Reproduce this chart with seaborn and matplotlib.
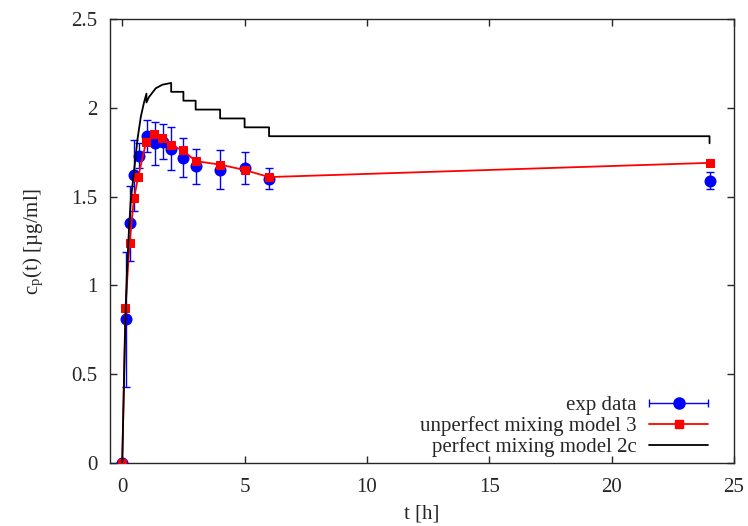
import numpy as np
import pandas as pd
import matplotlib
matplotlib.use('Agg')
import matplotlib.pyplot as plt
import seaborn as sns
from matplotlib.lines import Line2D
from matplotlib.container import ErrorbarContainer
from matplotlib.legend_handler import HandlerErrorbar

# experimental data: sampling time [h], concentration [ug/ml], error
t_exp = [0, 0.17, 0.33, 0.5, 0.67, 1.0, 1.33, 1.67, 2.0, 2.5, 3.0, 4.0, 5.0, 6.0, 24.0]
c_exp = [0, 0.81, 1.35, 1.62, 1.73, 1.84, 1.80, 1.81, 1.77, 1.72, 1.67, 1.65, 1.66, 1.60, 1.59]
err_exp = [0, 0.38, 0.21, 0.20, 0.07, 0.09, 0.12, 0.10, 0.12, 0.11, 0.10, 0.11, 0.09, 0.06, 0.05]

# unperfect mixing model 3
t_m3 = [0, 0.13, 0.30, 0.48, 0.65, 0.98, 1.30, 1.63, 1.98, 2.48, 3.0, 4.0, 5.0, 6.0, 24.0]
c_m3 = [0, 0.87, 1.24, 1.49, 1.61, 1.81, 1.85, 1.83, 1.79, 1.76, 1.70, 1.68, 1.65, 1.61, 1.69]

# perfect mixing model 2c
t_m2c = [0, 0.05, 0.10, 0.13, 0.20, 0.28, 0.35, 0.48, 0.62, 0.76, 0.89, 0.99, 0.99,
         1.09, 1.37, 1.64, 2.0, 2.0, 2.5, 2.5, 3.0, 3.0, 4.0, 4.0, 5.0, 5.0, 6.0, 6.0, 24.0, 24.0]
c_m2c = [0, 0.32, 0.63, 0.81, 1.10, 1.33, 1.48, 1.64, 1.82, 1.95, 2.03, 2.08, 2.03,
         2.06, 2.11, 2.13, 2.14, 2.09, 2.09, 2.04, 2.04, 1.99, 1.99, 1.94, 1.94, 1.89, 1.89, 1.84, 1.84, 1.80]

df_exp = pd.DataFrame({'t': t_exp, 'c': c_exp, 'err': err_exp})
df_m3 = pd.DataFrame({'t': t_m3, 'c': c_m3})
df_m2c = pd.DataFrame({'t': t_m2c, 'c': c_m2c})

sns.set_style('ticks')
plt.rcParams['font.family'] = ['Liberation Serif', 'DejaVu Serif']
plt.rcParams['mathtext.fontset'] = 'stix'

fig = plt.figure(figsize=(7.48, 5.26), dpi=100)
ax = fig.add_axes([110/748, 1-463/526, 624/748, 444/526])

ax.errorbar(df_exp['t'], df_exp['c'], yerr=df_exp['err'], fmt='none',
            ecolor='blue', elinewidth=1, capsize=3, capthick=1, zorder=2)
sns.scatterplot(data=df_exp, x='t', y='c', color='blue', s=75, linewidth=0,
                ax=ax, zorder=3)
sns.lineplot(data=df_m3, x='t', y='c', color='red', lw=1.3, marker='s', ms=6,
             mec='red', estimator=None, sort=False, ax=ax, zorder=4)
sns.lineplot(data=df_m2c, x='t', y='c', color='black', lw=1.3,
             estimator=None, sort=False, ax=ax, zorder=5)

ax.set_xlim(-0.5, 25)
ax.set_ylim(0, 2.5)
ax.set_xticks([0, 5, 10, 15, 20, 25])
ax.set_yticks([0, 0.5, 1, 1.5, 2, 2.5])
ax.set_yticklabels(['0', '0.5', '1', '1.5', '2', '2.5'])
ax.tick_params(direction='in', top=True, right=True, length=5, width=1,
               labelsize=15)
ax.tick_params(axis='x', pad=11)
ax.tick_params(axis='y', pad=9)
for s in ax.spines.values():
    s.set_linewidth(1)
ax.set_xlabel('t [h]', fontsize=15, labelpad=5)
ax.set_ylabel(r'c$_{\mathregular{p}}$(t) [µg/ml]', fontsize=15, labelpad=18)

# legend proxies
h_exp = ax.errorbar([np.nan], [np.nan], xerr=[1], fmt='o', color='blue', ms=8,
                    ecolor='blue', elinewidth=1, capsize=3)
h_m3 = Line2D([], [], color='red', lw=1.3, marker='s', ms=6)
h_m2c = Line2D([], [], color='black', lw=1.3)
ax.legend([h_exp, h_m3, h_m2c],
          ['exp data', 'unperfect mixing model 3', 'perfect mixing model 2c'],
          loc='lower right', bbox_to_anchor=(0.988, -0.029), frameon=False,
          markerfirst=False, numpoints=1, handlelength=2.8, handletextpad=0.6,
          labelspacing=0.05, fontsize=15,
          handler_map={ErrorbarContainer: HandlerErrorbar(xerr_size=1.4)})

fig.savefig('out.png', dpi=100)
